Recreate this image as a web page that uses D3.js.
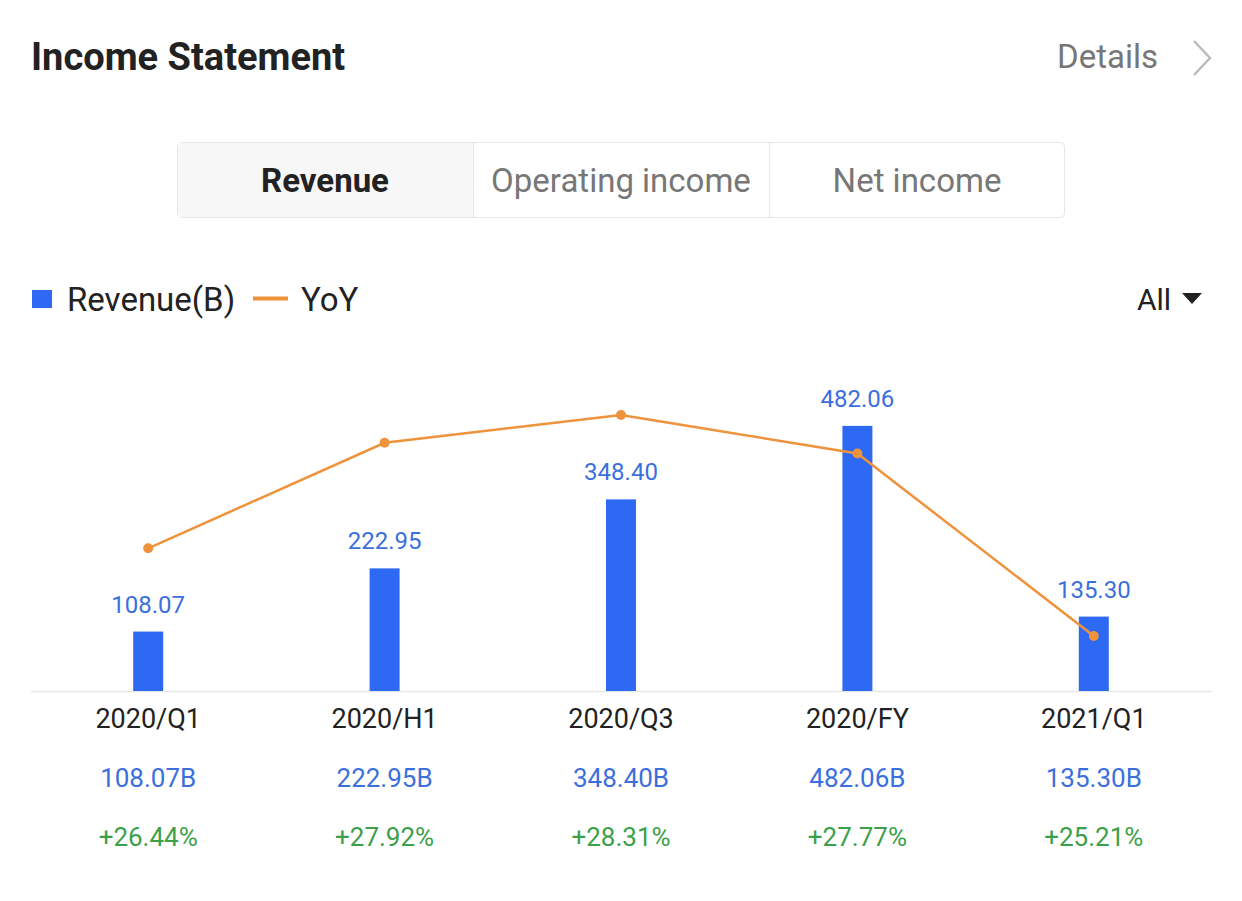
<!DOCTYPE html>
<html><head><meta charset="utf-8">
<script src="https://cdn.jsdelivr.net/npm/d3@7"></script>
<style>html,body{margin:0;padding:0;background:#fff;}svg{display:block;font-family:Roboto,"Noto Sans",sans-serif;}</style>
</head><body><svg id="c" width="1242" height="901"></svg>
<script>
const categories = ["2020/Q1","2020/H1","2020/Q3","2020/FY","2021/Q1"];
const revenue = [108.07,222.95,348.40,482.06,135.30];
const yoy = [26.44,27.92,28.31,27.77,25.21];
const tabs = ["Revenue","Operating income","Net income"];

const svg = d3.select("#c");
const BLUE = "#2d69f3", LBLUE = "#3b6fdd", ORANGE = "#ef923c", GREEN = "#3c9f4a";

// Header
svg.append("text").attr("x",31).attr("y",70).attr("font-size",38).attr("font-weight",700)
  .attr("fill","#222").text("Income Statement");
svg.append("text").attr("x",1158).attr("y",68).attr("text-anchor","end").attr("font-size",33)
  .attr("fill","#777").text("Details");
svg.append("path").attr("d","M1194,41 L1210,58 L1194,75").attr("fill","none")
  .attr("stroke","#bbb").attr("stroke-width",2.5);

// Tabs
const tabX = d3.scaleBand().domain(tabs).range([177,1065]);
const tg = svg.append("g");
tg.append("rect").attr("x",177.5).attr("y",142.5).attr("width",887).attr("height",75).attr("rx",4)
  .attr("fill","#fff").attr("stroke","#e6e6e6");
tg.append("rect").attr("x",178).attr("y",143).attr("width",tabX.bandwidth()-1).attr("height",74)
  .attr("fill","#f7f7f7");
tabs.slice(1).forEach(t=>{
  tg.append("line").attr("x1",tabX(t)+0.5).attr("x2",tabX(t)+0.5).attr("y1",143).attr("y2",217)
    .attr("stroke","#e6e6e6");
});
tabs.forEach((t,i)=>{
  tg.append("text").attr("x",tabX(t)+tabX.bandwidth()/2).attr("y",192).attr("text-anchor","middle")
    .attr("font-size",33).attr("font-weight",i===0?700:400).attr("fill",i===0?"#222":"#777").text(t);
});

// Legend
svg.append("rect").attr("x",32).attr("y",290).attr("width",20).attr("height",18).attr("fill",BLUE);
svg.append("text").attr("x",67).attr("y",311).attr("font-size",33).attr("fill","#222").text("Revenue(B)");
svg.append("line").attr("x1",253).attr("x2",288).attr("y1",298.5).attr("y2",298.5)
  .attr("stroke",ORANGE).attr("stroke-width",4);
svg.append("text").attr("x",301).attr("y",311).attr("font-size",33).attr("fill","#222").text("YoY");
svg.append("text").attr("x",1137).attr("y",310).attr("font-size",30).attr("fill","#222").text("All");
svg.append("path").attr("d","M1182,293 L1202,293 L1192,304 Z").attr("fill","#222");

// Scales
const x = d3.scaleBand().domain(categories).range([30,1212]);
const cx = c => x(c) + x.bandwidth()/2;
const y = d3.scaleLinear().domain([0,600]).range([691,361]);
const y2 = d3.scaleLinear().domain(d3.extent(yoy)).range([636,415]);
const barW = 30;

// Axis
const axis = svg.append("g").attr("transform","translate(0,691)")
  .call(d3.axisBottom(x).tickSize(0).tickPadding(18));
axis.select(".domain").attr("stroke","#e6e6e6").attr("stroke-width",1.5);
axis.selectAll("text").attr("font-size",27).attr("fill","#222").attr("font-family","Roboto, sans-serif");

// Bars
svg.append("g").selectAll("rect").data(categories).join("rect")
  .attr("x",c=>cx(c)-barW/2).attr("width",barW)
  .attr("y",(c,i)=>y(revenue[i])).attr("height",(c,i)=>y(0)-y(revenue[i]))
  .attr("fill",BLUE);
svg.append("g").selectAll("text").data(categories).join("text")
  .attr("x",cx).attr("y",(c,i)=>y(revenue[i])-19).attr("text-anchor","middle")
  .attr("font-size",24).attr("fill",LBLUE).text((c,i)=>revenue[i].toFixed(2));

// Line
const line = d3.line().x(d=>cx(d.c)).y(d=>y2(d.v));
const pts = categories.map((c,i)=>({c,v:yoy[i]}));
svg.append("path").datum(pts).attr("d",line).attr("fill","none")
  .attr("stroke",ORANGE).attr("stroke-width",2.5);
svg.append("g").selectAll("circle").data(pts).join("circle")
  .attr("cx",d=>cx(d.c)).attr("cy",d=>y2(d.v)).attr("r",5).attr("fill",ORANGE);

// Bottom rows
svg.append("g").selectAll("text").data(categories).join("text")
  .attr("x",cx).attr("y",787).attr("text-anchor","middle").attr("font-size",26).attr("fill",LBLUE)
  .text((c,i)=>revenue[i].toFixed(2)+"B");
svg.append("g").selectAll("text").data(categories).join("text")
  .attr("x",cx).attr("y",846).attr("text-anchor","middle").attr("font-size",26).attr("fill",GREEN)
  .text((c,i)=>"+"+yoy[i].toFixed(2)+"%");
</script></body></html>
